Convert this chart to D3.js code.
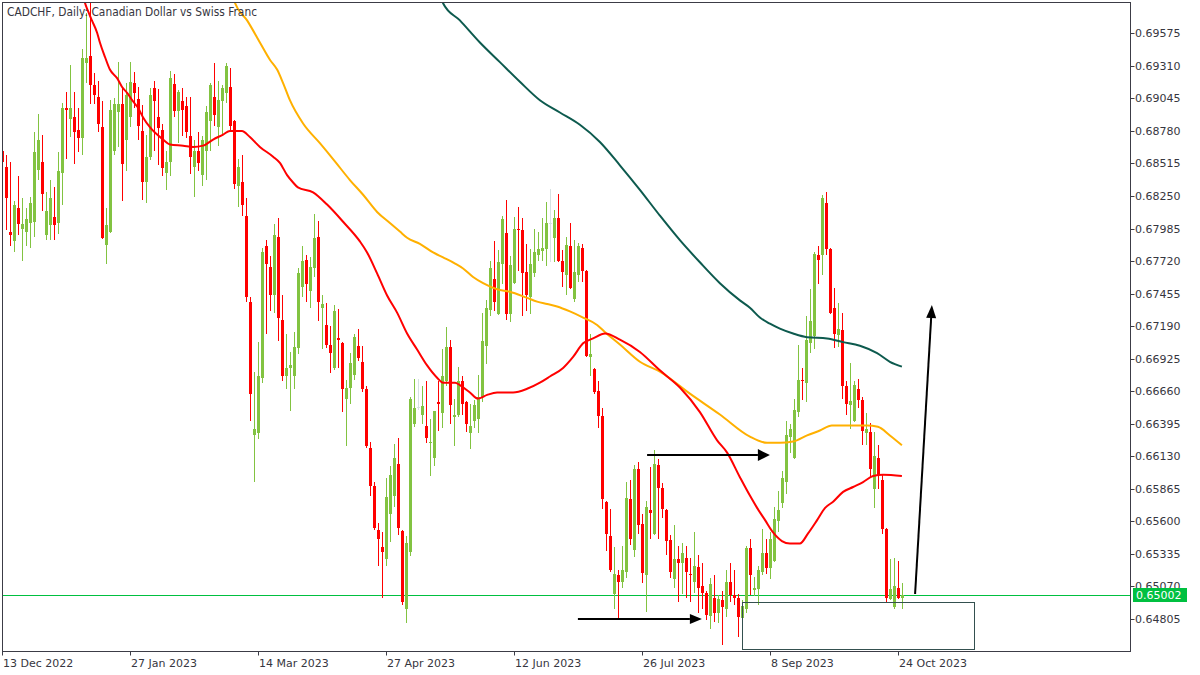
<!DOCTYPE html>
<html><head><meta charset="utf-8">
<script src="https://cdn.jsdelivr.net/npm/d3@7"></script>
<style>html,body{margin:0;padding:0;background:#fff;overflow:hidden}svg{display:block}</style>
</head><body>
<svg id="chart" width="1200" height="675"></svg>
<script>
// ---------------- DATA ----------------
const chartTitle = "CADCHF, Daily:  Canadian Dollar vs Swiss Franc";
// daily candles [open, high, low, close]
const candles = [
[0.6862,0.6866,0.6846,0.6853],[0.6849,0.6858,0.6797,0.6823],[0.6796,0.6853,0.6784,0.6793],[0.6788,0.6821,0.6779,0.6818],
[0.6815,0.6841,0.6793,0.6802],[0.6798,0.6823,0.6772,0.6802],[0.6796,0.6815,0.6784,0.6806],[0.6803,0.6824,0.6783,0.6819],
[0.6804,0.6877,0.6792,0.6861],[0.6846,0.6892,0.6838,0.6871],[0.6853,0.6875,0.6813,0.6827],[0.6793,0.6828,0.6789,0.6813],
[0.6801,0.6838,0.6789,0.6823],[0.6808,0.6832,0.6789,0.6801],[0.6803,0.6861,0.6794,0.6845],[0.6844,0.6901,0.6818,0.6897],
[0.6897,0.6910,0.6855,0.6895],[0.6888,0.6932,0.6873,0.6897],[0.6889,0.6910,0.6851,0.6877],[0.6879,0.6897,0.6861,0.6872],
[0.6872,0.6945,0.6858,0.6937],[0.6933,0.6974,0.6917,0.6937],[0.6939,0.6985,0.6900,0.6915],[0.6915,0.6925,0.6900,0.6907],
[0.6906,0.6919,0.6877,0.6884],[0.6881,0.6902,0.6790,0.6791],[0.6785,0.6815,0.6770,0.6801],[0.6796,0.6903,0.6795,0.6895],
[0.6862,0.6905,0.6858,0.6900],[0.6893,0.6934,0.6865,0.6900],[0.6900,0.6914,0.6821,0.6851],[0.6871,0.6917,0.6845,0.6907],
[0.6889,0.6934,0.6881,0.6918],[0.6917,0.6926,0.6897,0.6909],[0.6904,0.6914,0.6871,0.6882],[0.6878,0.6899,0.6822,0.6836],
[0.6836,0.6875,0.6819,0.6857],[0.6857,0.6913,0.6854,0.6907],[0.6913,0.6919,0.6862,0.6902],[0.6889,0.6912,0.6850,0.6880],
[0.6879,0.6884,0.6841,0.6848],[0.6844,0.6862,0.6830,0.6853],[0.6853,0.6927,0.6841,0.6921],[0.6916,0.6924,0.6889,0.6894],
[0.6894,0.6911,0.6868,0.6910],[0.6902,0.6913,0.6874,0.6895],[0.6898,0.6906,0.6872,0.6877],[0.6874,0.6906,0.6843,0.6857],
[0.6849,0.6871,0.6824,0.6862],[0.6862,0.6877,0.6845,0.6852],[0.6842,0.6874,0.6833,0.6871],[0.6862,0.6898,0.6838,0.6893],
[0.6886,0.6917,0.6862,0.6915],[0.6906,0.6933,0.6882,0.6891],[0.6881,0.6919,0.6866,0.6903],[0.6902,0.6915,0.6874,0.6913],
[0.6909,0.6933,0.6901,0.6931],[0.6914,0.6929,0.6878,0.6882],[0.6886,0.6887,0.6831,0.6835],[0.6833,0.6855,0.6816,0.6849],
[0.6836,0.6858,0.6809,0.6818],[0.6809,0.6823,0.6739,0.6743],[0.6739,0.6743,0.6642,0.6664],[0.6630,0.6682,0.6592,0.6635],
[0.6632,0.6706,0.6627,0.6678],[0.6677,0.6783,0.6673,0.6779],[0.6784,0.6789,0.6713,0.6770],[0.6767,0.6776,0.6731,0.6744],
[0.6744,0.6802,0.6730,0.6793],[0.6792,0.6807,0.6707,0.6726],[0.6724,0.6744,0.6674,0.6678],[0.6678,0.6713,0.6668,0.6685],
[0.6685,0.6698,0.6650,0.6687],[0.6678,0.6714,0.6668,0.6702],[0.6701,0.6766,0.6696,0.6762],[0.6751,0.6784,0.6743,0.6772],
[0.6773,0.6777,0.6739,0.6753],[0.6748,0.6775,0.6734,0.6767],[0.6766,0.6810,0.6759,0.6791],[0.6792,0.6805,0.6723,0.6739],
[0.6734,0.6744,0.6700,0.6737],[0.6720,0.6738,0.6701,0.6704],[0.6704,0.6719,0.6681,0.6697],[0.6685,0.6736,0.6683,0.6731],
[0.6709,0.6733,0.6685,0.6708],[0.6705,0.6706,0.6649,0.6668],[0.6660,0.6675,0.6621,0.6669],[0.6669,0.6697,0.6656,0.6689],
[0.6679,0.6713,0.6675,0.6710],[0.6703,0.6717,0.6691,0.6693],[0.6690,0.6703,0.6665,0.6668],[0.6668,0.6670,0.6620,0.6621],
[0.6620,0.6625,0.6581,0.6589],[0.6589,0.6592,0.6553,0.6555],[0.6553,0.6559,0.6524,0.6546],[0.6539,0.6551,0.6498,0.6535],
[0.6529,0.6595,0.6524,0.6580],[0.6566,0.6605,0.6543,0.6598],[0.6581,0.6623,0.6572,0.6612],[0.6607,0.6628,0.6549,0.6555],
[0.6552,0.6553,0.6492,0.6494],[0.6489,0.6548,0.6477,0.6542],[0.6535,0.6661,0.6532,0.6660],[0.6639,0.6676,0.6637,0.6652],
[0.6653,0.6676,0.6651,0.6653],[0.6647,0.6670,0.6639,0.6654],[0.6638,0.6674,0.6624,0.6628],[0.6624,0.6643,0.6597,0.6625],
[0.6612,0.6650,0.6605,0.6650],[0.6657,0.6674,0.6634,0.6656],[0.6648,0.6700,0.6636,0.6678],[0.6674,0.6718,0.6670,0.6702],
[0.6702,0.6708,0.6639,0.6655],[0.6645,0.6660,0.6621,0.6647],[0.6647,0.6686,0.6645,0.6674],[0.6674,0.6678,0.6647,0.6656],
[0.6657,0.6658,0.6633,0.6639],[0.6632,0.6656,0.6619,0.6638],[0.6642,0.6659,0.6636,0.6655],[0.6643,0.6679,0.6632,0.6661],
[0.6661,0.6730,0.6657,0.6707],[0.6703,0.6740,0.6688,0.6734],[0.6732,0.6772,0.6727,0.6766],[0.6757,0.6788,0.6731,0.6739],
[0.6729,0.6781,0.6728,0.6771],[0.6770,0.6809,0.6753,0.6806],[0.6795,0.6822,0.6724,0.6729],[0.6729,0.6776,0.6722,0.6769],
[0.6754,0.6808,0.6753,0.6798],[0.6798,0.6816,0.6764,0.6797],[0.6797,0.6807,0.6727,0.6762],[0.6763,0.6786,0.6731,0.6744],
[0.6743,0.6782,0.6729,0.6770],[0.6762,0.6798,0.6759,0.6779],[0.6777,0.6796,0.6772,0.6782],[0.6780,0.6807,0.6772,0.6783],
[0.6782,0.6820,0.6768,0.6803],[0.6803,0.6831,0.6771,0.6803],[0.6791,0.6814,0.6771,0.6807],[0.6807,0.6827,0.6771,0.6772],
[0.6772,0.6781,0.6751,0.6763],[0.6761,0.6792,0.6744,0.6785],[0.6784,0.6803,0.6749,0.6750],[0.6741,0.6789,0.6739,0.6763],
[0.6761,0.6787,0.6755,0.6784],[0.6783,0.6786,0.6755,0.6764],[0.6764,0.6765,0.6694,0.6695],[0.6694,0.6713,0.6678,0.6696],
[0.6684,0.6685,0.6664,0.6665],[0.6666,0.6674,0.6636,0.6646],[0.6646,0.6652,0.6570,0.6578],[0.6576,0.6577,0.6536,0.6550],
[0.6548,0.6570,0.6519,0.6520],[0.6501,0.6539,0.6489,0.6517],[0.6516,0.6520,0.6481,0.6511],[0.6511,0.6540,0.6506,0.6520],
[0.6519,0.6592,0.6514,0.6579],[0.6578,0.6594,0.6541,0.6546],[0.6537,0.6606,0.6531,0.6603],[0.6603,0.6608,0.6550,0.6557],
[0.6558,0.6566,0.6510,0.6518],[0.6516,0.6577,0.6486,0.6572],[0.6569,0.6604,0.6546,0.6567],[0.6550,0.6618,0.6549,0.6607],
[0.6606,0.6611,0.6546,0.6587],[0.6587,0.6591,0.6563,0.6570],[0.6569,0.6570,0.6533,0.6544],[0.6545,0.6549,0.6514,0.6519],
[0.6513,0.6557,0.6506,0.6529],[0.6529,0.6540,0.6494,0.6526],[0.6526,0.6542,0.6501,0.6534],[0.6530,0.6540,0.6498,0.6519],
[0.6517,0.6530,0.6494,0.6516],[0.6511,0.6551,0.6502,0.6524],[0.6523,0.6533,0.6485,0.6506],[0.6507,0.6526,0.6489,0.6502],
[0.6502,0.6503,0.6480,0.6484],[0.6483,0.6514,0.6472,0.6509],[0.6498,0.6516,0.6478,0.6485],[0.6485,0.6500,0.6477,0.6497],
[0.6496,0.6503,0.6459,0.6490],[0.6489,0.6520,0.6482,0.6511],[0.6511,0.6526,0.6494,0.6500],[0.6500,0.6520,0.6492,0.6498],
[0.6498,0.6501,0.6466,0.6482],[0.6481,0.6496,0.6480,0.6491],[0.6489,0.6540,0.6485,0.6538],[0.6538,0.6546,0.6500,0.6516],
[0.6504,0.6515,0.6499,0.6506],[0.6505,0.6524,0.6492,0.6520],[0.6519,0.6554,0.6516,0.6534],[0.6534,0.6546,0.6517,0.6522],
[0.6522,0.6551,0.6513,0.6546],[0.6528,0.6572,0.6527,0.6562],[0.6560,0.6585,0.6551,0.6569],[0.6575,0.6601,0.6571,0.6595],
[0.6592,0.6642,0.6582,0.6630],[0.6629,0.6639,0.6616,0.6635],[0.6612,0.6660,0.6611,0.6651],[0.6649,0.6704,0.6645,0.6675],
[0.6675,0.6685,0.6659,0.6674],[0.6673,0.6727,0.6657,0.6708],[0.6705,0.6749,0.6697,0.6723],[0.6711,0.6779,0.6700,0.6778],
[0.6777,0.6784,0.6753,0.6773],[0.6777,0.6826,0.6761,0.6823],[0.6819,0.6828,0.6777,0.6782],[0.6782,0.6783,0.6729,0.6730],
[0.6734,0.6750,0.6701,0.6713],[0.6712,0.6738,0.6702,0.6717],[0.6716,0.6730,0.6660,0.6670],[0.6670,0.6674,0.6647,0.6656],
[0.6655,0.6689,0.6635,0.6658],[0.6642,0.6674,0.6641,0.6671],[0.6668,0.6676,0.6652,0.6659],[0.6659,0.6661,0.6622,0.6634],
[0.6632,0.6648,0.6622,0.6635],[0.6633,0.6640,0.6595,0.6603],[0.6586,0.6633,0.6571,0.6613],[0.6612,0.6622,0.6586,0.6598],
[0.6594,0.6598,0.6550,0.6554],[0.6554,0.6555,0.6494,0.6498],[0.6497,0.6529,0.6496,0.6505],[0.6490,0.6530,0.6489,0.6507],
[0.6506,0.6528,0.6497,0.6498],[0.6498,0.6510,0.6489,0.65002]
];
const xTickIndex  = [0, 32, 64, 96, 128, 160, 192, 224];
const xTickLabels = ["13 Dec 2022","27 Jan 2023","14 Mar 2023","27 Apr 2023","12 Jun 2023","26 Jul 2023","8 Sep 2023","24 Oct 2023"];
const yTickValues = [0.69575,0.69310,0.69045,0.68780,0.68515,0.68250,0.67985,0.67720,0.67455,0.67190,
                     0.66925,0.66660,0.66395,0.66130,0.65865,0.65600,0.65335,0.65070,0.64805];
const currentPrice = 0.65002;
// moving averages: [bar index, price]
const maRed = [[20.2,0.6989],[20.7,0.6982],[21.4,0.6976],[22.4,0.6968],[23.7,0.6958],[24.4,0.6950],[25.7,0.6938],
 [26.9,0.6928],[28.7,0.6921],[29.9,0.6914],[31.2,0.6909],[32.7,0.6902],[33.9,0.6897],[35.2,0.6889],[36.9,0.6881],
 [40.2,0.6871],[41.9,0.6867],[45.2,0.6866],[47.7,0.6865],[50.2,0.6866],[52.7,0.6871],[55.2,0.6875],[56.9,0.6878],
 [59.9,0.6878],[61.9,0.6873],[64.4,0.6865],[67.7,0.6857],[69.4,0.6852],[71.2,0.6842],[72.7,0.6836],[73.9,0.6832],
 [77.7,0.6828],[81.2,0.6818],[85.2,0.6804],[89.4,0.6788],[91.2,0.6779],[93.7,0.6762],[96.2,0.6744],[98.7,0.6730],
 [101.2,0.6713],[103.7,0.6700],[106.2,0.6687],[108.7,0.6677],[110.2,0.6673],[113.2,0.6673],[114.4,0.6671],
 [116.9,0.6665],[118.9,0.6660],[121.2,0.6663],[123.7,0.6665],[127.7,0.6665],[131.2,0.6668],[134.4,0.6673],
 [136.9,0.6678],[140.2,0.6685],[142.7,0.6694],[145.2,0.6705],[147.7,0.6709],[150.7,0.6713],[154.4,0.6708],
 [159.4,0.6698],[164.4,0.6683],[169.4,0.6669],[174.4,0.6649],[178.7,0.6626],[181.2,0.6616],[184.4,0.6596],
 [186.9,0.6581],[188.7,0.6571],[190.7,0.6561],[192.7,0.6551],[194.9,0.6544],[196.9,0.6542],[199.4,0.6542],
 [201.4,0.6550],[203.7,0.6561],[205.7,0.6571],[207.7,0.6576],[210.2,0.6584],[212.7,0.6588],[215.2,0.6592],
 [217.7,0.6597],[220.2,0.6598],[224.9,0.6597]];
const maOrange = [[57.5,0.6989],[58.2,0.6982],[61.2,0.6968],[64.4,0.6950],[66.9,0.6936],[68.7,0.6928],[70.2,0.6917],
 [71.9,0.6903],[75.2,0.6884],[79.4,0.6868],[83.2,0.6853],[86.9,0.6838],[90.2,0.6826],[93.7,0.6812],[96.9,0.6803],
 [99.4,0.6796],[101.2,0.6791],[104.4,0.6786],[107.7,0.6779],[110.2,0.6775],[113.2,0.6770],[115.2,0.6766],
 [117.7,0.6759],[120.2,0.6754],[123.7,0.6749],[126.9,0.6747],[131.2,0.6742],[133.7,0.6739],[136.2,0.6737],
 [138.7,0.6735],[141.9,0.6731],[145.2,0.6726],[148.7,0.6720],[150.7,0.6714],[154.4,0.6704],[159.4,0.6690],
 [164.4,0.6682],[171.9,0.6664],[179.4,0.6647],[186.9,0.6629],[191.2,0.6624],[194.4,0.6624],[197.7,0.6625],
 [201.2,0.6630],[204.4,0.6634],[207.4,0.6638],[211.9,0.6638],[216.2,0.6638],[218.9,0.6637],[221.9,0.6630],[224.9,0.6622]];
const maDarkGreen = [[109.4,0.6989],[110.2,0.6982],[114.4,0.6968],[119.4,0.6950],[124.4,0.6934],[129.4,0.6918],
 [134.4,0.6903],[139.4,0.6893],[144.4,0.6883],[149.4,0.6869],[154.4,0.6850],[159.4,0.6830],[164.4,0.6809],
 [169.4,0.6789],[174.4,0.6771],[179.4,0.6754],[184.4,0.6740],[186.9,0.6734],[189.4,0.6726],[191.9,0.6721],
 [194.4,0.6717],[197.7,0.6713],[201.2,0.6710],[206.2,0.6709],[210.2,0.6706],[214.4,0.6703],[218.7,0.6697],
 [221.9,0.6690],[224.9,0.6686]];
// annotations in data units [bar index, price]
const arrowLow   = [[143.9,0.64805],[174.9,0.64805]];
const arrowHigh  = [[161.2,0.66140],[191.9,0.66140]];
const arrowUp    = [[228.2,0.65009],[232.4,0.67362]];
const zoneBox    = [[184.9,0.64943],[242.9,0.64561]];

// ---------------- STYLE / LAYOUT ----------------
const W = 1200, H = 675;
const plot = {left: 2.5, top: 2.5, right: 1130.5, bottom: 651.5};
const col = {up: "#82c341", down: "#ff0000", doji: "#d5e2e2", text: "#363640", frame: "#3c3c46",
             maRed: "#ff0000", maOrange: "#ffb000", maGreen: "#0d5a4e", price: "#00c040", box: "#34504f"};
const font = "'DejaVu Sans', sans-serif";

const svg = d3.select("#chart");
svg.append("rect").attr("width", W).attr("height", H).attr("fill", "#fff");

const x = d3.scaleLinear().domain([0, 225]).range([2.3, 902.3]);
const y = d3.scaleLinear().domain([0.64805, 0.69575]).range([619, 33.3]);

svg.append("defs").append("clipPath").attr("id", "clip")
  .append("rect").attr("x", plot.left + 0.5).attr("y", plot.top + 0.5)
  .attr("width", plot.right - plot.left - 1).attr("height", plot.bottom - plot.top - 1);

const g = svg.append("g").attr("clip-path", "url(#clip)");

// current price line
g.append("line").attr("x1", plot.left).attr("x2", plot.right)
  .attr("y1", Math.round(y(currentPrice)) + 0.5).attr("y2", Math.round(y(currentPrice)) + 0.5)
  .attr("stroke", col.price).attr("stroke-width", 1);

// candles
const cg = g.append("g").attr("shape-rendering", "crispEdges");
candles.forEach((d, i) => {
  const [o, h, l, c] = d;
  const cx = Math.round(x(i));
  const color = c > o ? col.up : (c < o ? col.down : col.doji);
  const yh = Math.round(y(h)), yl = Math.round(y(l));
  cg.append("rect").attr("x", cx).attr("y", yh).attr("width", 1).attr("height", Math.max(1, yl - yh)).attr("fill", color);
  const bt = Math.round(y(Math.max(o, c))), bb = Math.round(y(Math.min(o, c)));
  cg.append("rect").attr("x", cx - 1).attr("y", bt).attr("width", 3).attr("height", Math.max(1, bb - bt)).attr("fill", color);
});

// moving averages
const line = d3.line().x(d => x(d[0])).y(d => y(d[1])).curve(d3.curveMonotoneX);
[[maDarkGreen, col.maGreen], [maOrange, col.maOrange], [maRed, col.maRed]].forEach(([data, color]) => {
  g.append("path").datum(data).attr("d", line).attr("fill", "none").attr("stroke", color).attr("stroke-width", 2);
});

// annotations
function arrow(pts, headLen, headHalf) {
  const x1 = x(pts[0][0]), y1 = y(pts[0][1]), x2 = x(pts[1][0]), y2 = y(pts[1][1]);
  const dx = x2 - x1, dy = y2 - y1, len = Math.hypot(dx, dy), ux = dx / len, uy = dy / len;
  const bx = x2 - ux * headLen, by = y2 - uy * headLen;
  g.append("line").attr("x1", x1).attr("y1", y1).attr("x2", bx).attr("y2", by)
    .attr("stroke", "#000").attr("stroke-width", 2);
  g.append("path").attr("d", `M${x2},${y2}L${bx - uy * headHalf},${by + ux * headHalf}L${bx + uy * headHalf},${by - ux * headHalf}Z`)
    .attr("fill", "#000");
}
arrow(arrowLow, 12, 5);
arrow(arrowHigh, 12, 6);
arrow(arrowUp, 13, 5);

g.append("rect").attr("x", Math.round(x(zoneBox[0][0])) + 0.5).attr("y", Math.round(y(zoneBox[0][1])) + 0.5)
  .attr("width", Math.round(x(zoneBox[1][0]) - x(zoneBox[0][0])))
  .attr("height", Math.round(y(zoneBox[1][1]) - y(zoneBox[0][1])))
  .attr("fill", "none").attr("stroke", col.box).attr("stroke-width", 1);

// frame
svg.append("rect").attr("x", plot.left).attr("y", plot.top)
  .attr("width", plot.right - plot.left).attr("height", plot.bottom - plot.top)
  .attr("fill", "none").attr("stroke", col.frame).attr("stroke-width", 1);

// y axis (right)
const yAxis = svg.append("g");
yTickValues.forEach(v => {
  const yy = Math.round(y(v)) + 0.5;
  yAxis.append("line").attr("x1", plot.right).attr("x2", plot.right + 4).attr("y1", yy).attr("y2", yy)
    .attr("stroke", col.frame);
  yAxis.append("text").attr("x", 1135).attr("y", yy).attr("dy", "0.36em")
    .attr("font-family", font).attr("font-size", 11).attr("fill", col.text).text(d3.format(".5f")(v));
});
// current price box
const py = y(currentPrice);
svg.append("rect").attr("x", 1133).attr("y", Math.round(py) - 7).attr("width", 54).attr("height", 14).attr("fill", col.price);
svg.append("text").attr("x", 1136).attr("y", Math.round(py)).attr("dy", "0.36em")
  .attr("font-family", font).attr("font-size", 11).attr("fill", "#fff").text(d3.format(".5f")(currentPrice));

// x axis (bottom)
const xAxis = svg.append("g");
xTickIndex.forEach((idx, k) => {
  const xx = Math.round(x(idx)) + 0.5;
  xAxis.append("line").attr("x1", xx).attr("x2", xx).attr("y1", plot.bottom).attr("y2", plot.bottom + 4)
    .attr("stroke", col.frame);
  xAxis.append("text").attr("x", xx + 0.5).attr("y", 667)
    .attr("font-family", font).attr("font-size", 11).attr("fill", col.text).text(xTickLabels[k]);
});

// title
svg.append("text").attr("x", 7).attr("y", 16).attr("font-family", font).attr("font-size", 11.5)
  .attr("fill", col.text).attr("textLength", 250).attr("lengthAdjust", "spacingAndGlyphs").text(chartTitle);
</script>
</body></html>
